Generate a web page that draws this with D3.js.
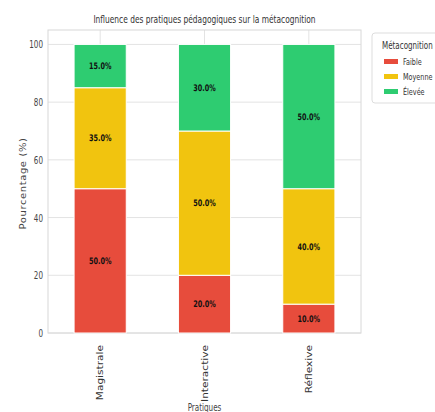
<!DOCTYPE html>
<html>
<head>
<meta charset="utf-8">
<script src="https://cdn.jsdelivr.net/npm/d3@7"></script>
<style>
  html, body { margin: 0; padding: 0; background: #fff; }
  text { font-family: "DejaVu Sans", sans-serif; }
</style>
</head>
<body>
<svg id="chart" width="435" height="412"></svg>
<script>
// Pratiques pédagogiques et niveaux de métacognition (%)
const practices = ["Magistrale", "Interactive", "Réflexive"];
const levels = ["Faible", "Moyenne", "Élevée"];
const faible = [50, 20, 10];
const moyenne = [35, 50, 40];
const elevee = [15, 30, 50];
const yTicks = [0, 20, 40, 60, 80, 100];
const colors = ["#e74c3c", "#f1c40f", "#2ecc71"];

// narrow glyph width used for all horizontal text
const SX = 0.72;

const rows = practices.map((p, i) => ({
  practice: p, "Faible": faible[i], "Moyenne": moyenne[i], "Élevée": elevee[i]
}));
const stacked = d3.stack().keys(levels)(rows);

const svg = d3.select("#chart");
const m = { left: 48, right: 361, top: 30, bottom: 333 };

const x = d3.scaleBand().domain(practices).range([m.left, m.right])
  .paddingInner(0.5).paddingOuter(0.25);
const y = d3.scaleLinear().domain([0, 105]).range([m.bottom, m.top]);
const color = d3.scaleOrdinal().domain(levels).range(colors);

// place a horizontally condensed text at (px, py)
function narrowText(parent, px, py, str, sx = SX) {
  return parent.append("text")
    .attr("transform", `translate(${px},${py}) scale(${sx},1)`)
    .text(str);
}

// grid
const g = svg.append("g");
g.selectAll("line.h").data(yTicks).join("line")
  .attr("x1", m.left).attr("x2", m.right)
  .attr("y1", d => y(d)).attr("y2", d => y(d))
  .attr("stroke", "#e3e3e3").attr("stroke-width", 1);
g.selectAll("line.v").data(practices).join("line")
  .attr("x1", d => x(d) + x.bandwidth() / 2).attr("x2", d => x(d) + x.bandwidth() / 2)
  .attr("y1", m.top).attr("y2", m.bottom)
  .attr("stroke", "#e3e3e3").attr("stroke-width", 1);
g.append("rect").attr("x", m.left).attr("y", m.top)
  .attr("width", m.right - m.left).attr("height", m.bottom - m.top)
  .attr("fill", "none").attr("stroke", "#d8d8d8");

// bars
const layers = svg.append("g").selectAll("g").data(stacked).join("g")
  .attr("fill", d => color(d.key));
layers.selectAll("rect").data(d => d).join("rect")
  .attr("x", d => x(d.data.practice))
  .attr("width", x.bandwidth())
  .attr("y", d => y(d[1]))
  .attr("height", d => y(d[0]) - y(d[1]))
  .attr("stroke", "#fff").attr("stroke-width", 1);

// value labels
layers.selectAll("text").data(d => d).join("text")
  .attr("transform", d =>
    `translate(${x(d.data.practice) + x.bandwidth() / 2},${(y(d[0]) + y(d[1])) / 2}) scale(${SX},1)`)
  .attr("text-anchor", "middle").attr("dy", "0.35em")
  .attr("font-size", 9).attr("font-weight", "bold").attr("fill", "#111")
  .text(d => (d[1] - d[0]).toFixed(1) + "%");

// y axis
const yAxis = svg.append("g").attr("transform", `translate(${m.left},0)`)
  .call(d3.axisLeft(y).tickValues(yTicks).tickSize(0).tickPadding(5));
yAxis.select(".domain").remove();
yAxis.selectAll("text").attr("font-size", 10).attr("fill", "#444")
  .attr("x", null).attr("dy", null)
  .attr("transform", `translate(-5,3.5) scale(${SX},1)`);

// x axis (rotated labels)
const xAxis = svg.append("g").attr("transform", `translate(0,${m.bottom})`)
  .call(d3.axisBottom(x).tickSize(0).tickPadding(0));
xAxis.select(".domain").remove();
xAxis.selectAll("text")
  .attr("font-size", 10.6).attr("fill", "#333")
  .attr("y", null).attr("dy", null)
  .attr("transform", `rotate(-90) translate(-12,0) scale(1,0.8) translate(0,4)`)
  .attr("text-anchor", "end");

// titles
narrowText(svg, (m.left + m.right) / 2, 23, "Influence des pratiques pédagogiques sur la métacognition", 0.68)
  .attr("text-anchor", "middle").attr("font-size", 11).attr("fill", "#333");
svg.append("text")
  .attr("transform", `translate(26,${(m.top + m.bottom) / 2 + 2}) rotate(-90) scale(1,0.85)`)
  .attr("text-anchor", "middle").attr("font-size", 10).attr("fill", "#444")
  .attr("letter-spacing", 0.6)
  .text("Pourcentage (%)");
narrowText(svg, (m.left + m.right) / 2, 411, "Pratiques")
  .attr("text-anchor", "middle").attr("font-size", 10).attr("fill", "#444");

// legend
const lg = svg.append("g").attr("transform", "translate(372,33)");
lg.append("rect").attr("width", 70).attr("height", 70).attr("rx", 3)
  .attr("fill", "#fff").attr("stroke", "#ddd");
narrowText(lg, 10, 16, "Métacognition", 0.68).attr("font-size", 10.5).attr("fill", "#333");
const items = lg.selectAll("g.item").data(levels).join("g")
  .attr("transform", (d, i) => `translate(12,${29 + i * 15})`);
items.append("rect").attr("width", 14).attr("height", 5).attr("y", -3)
  .attr("fill", d => color(d));
items.append("text")
  .attr("transform", `translate(19,3) scale(0.68,1)`)
  .attr("font-size", 9.5).attr("fill", "#333").text(d => d);
</script>
</body>
</html>
